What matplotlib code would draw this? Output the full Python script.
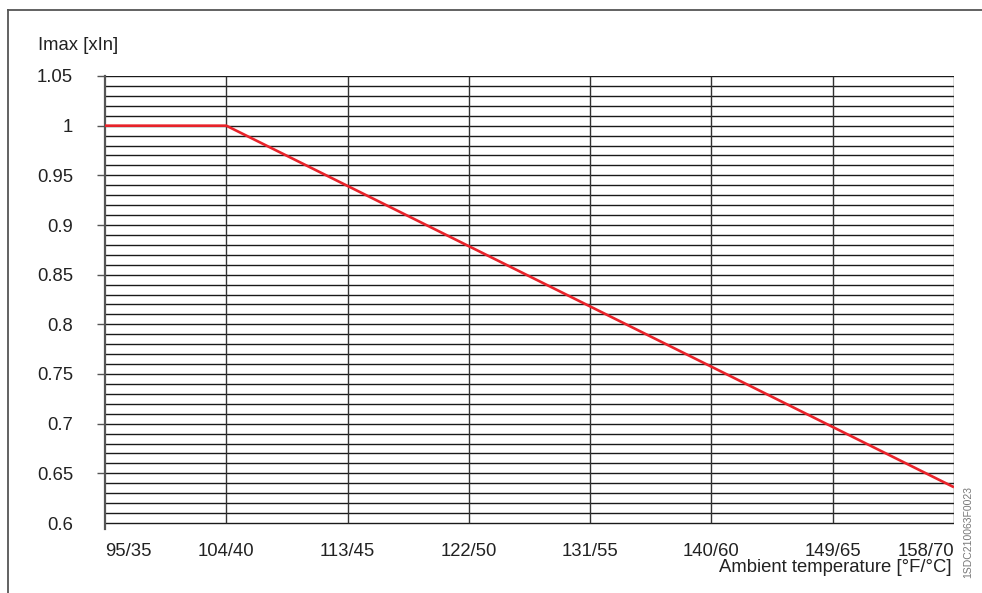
import matplotlib
matplotlib.use("Agg")
import matplotlib.pyplot as plt
import numpy as np
from matplotlib.lines import Line2D

# Data
temp_c = [35, 40, 70]
imax = [1.0, 1.0, 0.636]
xtick_c = [35, 40, 45, 50, 55, 60, 65, 70]
xtick_labels = ["95/35", "104/40", "113/45", "122/50", "131/55", "140/60", "149/65", "158/70"]
ytick_vals = [0.6, 0.65, 0.7, 0.75, 0.8, 0.85, 0.9, 0.95, 1.0, 1.05]
ytick_labels = ["0.6", "0.65", "0.7", "0.75", "0.8", "0.85", "0.9", "0.95", "1", "1.05"]
ygrid_vals = [round(0.6 + 0.01 * i, 2) for i in range(46)]

plt.rcParams['font.family'] = ['Liberation Sans', 'DejaVu Sans']
FS = 13.3

W, H = 982, 593
fig = plt.figure(figsize=(W / 100, H / 100), dpi=100)

# Outer frame lines (top and left)
fig.add_artist(Line2D([8 / W, 1.0], [1 - 10 / H, 1 - 10 / H], transform=fig.transFigure,
                      color="#555555", lw=1.3))
fig.add_artist(Line2D([8 / W, 8 / W], [0, 1 - 10 / H], transform=fig.transFigure,
                      color="#555555", lw=1.3))

left, right = 105 / W, 954 / W
y_top = 76
y06 = 523
ymin = 0.594
ppu = (y06 - y_top) / 0.45
y_bottom_px = y06 + (0.6 - ymin) * ppu
ax = fig.add_axes([left, 1 - y_bottom_px / H, right - left, (y_bottom_px - y_top) / H])
ax.set_xlim(35, 70)
ax.set_ylim(ymin, 1.05)

for s in ["top", "right", "bottom"]:
    ax.spines[s].set_visible(False)
ax.spines["left"].set_color("#555555")
ax.spines["left"].set_linewidth(1.6)

# horizontal grid every 0.01
ax.hlines(ygrid_vals, 35, 70, colors="#1a1a1a", lw=1.0, zorder=1)
# vertical grid
ax.vlines(xtick_c[1:], 0.6, 1.05, colors="#333333", lw=1.0, zorder=1)

ax.plot(temp_c, imax, color="#e8232a", lw=1.9, zorder=3, solid_capstyle="butt")

ax.set_yticks(ytick_vals)
ax.set_yticklabels(ytick_labels, fontsize=FS, color="#222222")
ax.tick_params(axis="y", direction="out", length=6, width=1.0, color="#555555", pad=17)
ax.yaxis.get_major_ticks()[0].tick1line.set_visible(False)

ax.set_xticks(xtick_c)
ax.set_xticklabels(xtick_labels, fontsize=FS, color="#222222")
ax.tick_params(axis="x", length=0, pad=10)
xl = ax.get_xticklabels()
xl[0].set_ha("left")
xl[-1].set_ha("right")

fig.text(38 / W, 1 - 45 / H, "Imax [xIn]", fontsize=FS, color="#222222", va="center", ha="left")
fig.text(952 / W, 1 - 568 / H, "Ambient temperature [°F/°C]", fontsize=FS, color="#222222",
         va="center", ha="right")
fig.text(968 / W, 1 - 532 / H, "1SDC210063F0023", fontsize=7.5, color="#777777",
         rotation=90, va="center", ha="center")

fig.savefig("out.png", dpi=100)
